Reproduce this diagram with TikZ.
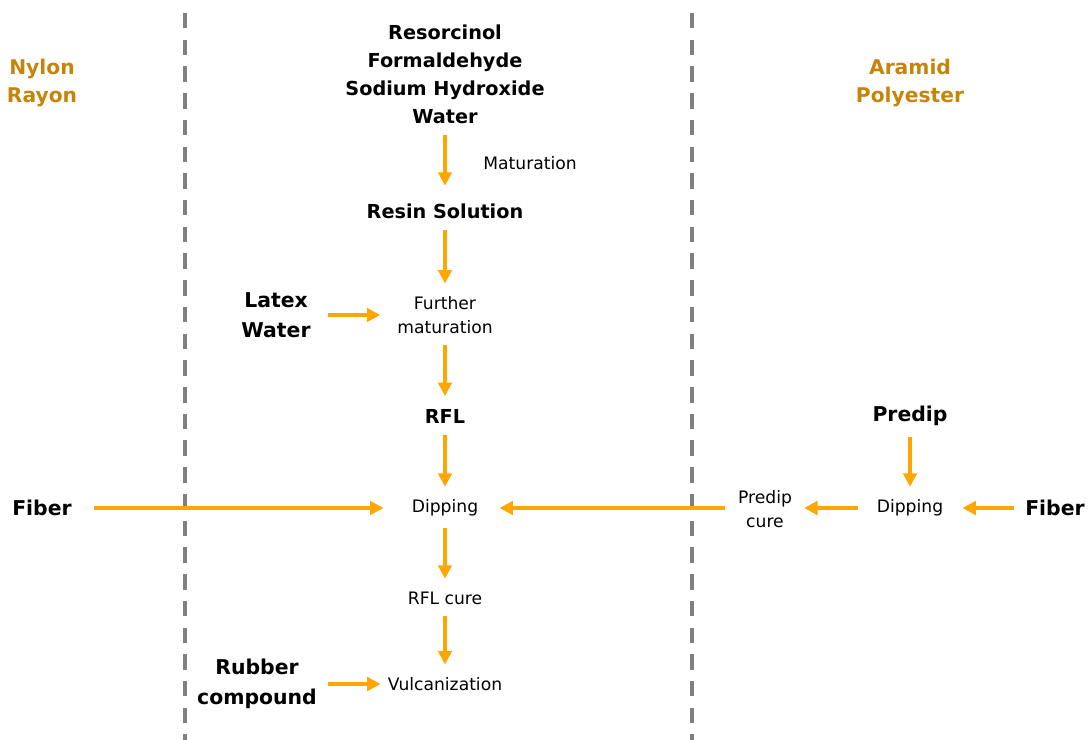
\documentclass[tikz,border=0pt]{standalone}
\usepackage{fontspec}
\setmainfont{DejaVu Sans}
\usetikzlibrary{arrows.meta, positioning}
\definecolor{floworange}{RGB}{255,166,0}
\definecolor{fibreorange}{RGB}{199,132,10}
\definecolor{divgray}{RGB}{128,128,128}

\begin{document}
\begin{tikzpicture}[x=0.025cm, y=-0.025cm,
    flow/.style={draw=floworange, line width=2.5pt, -{Triangle[length=9.5pt,width=9.5pt]},
                 shorten <=8pt, shorten >=9pt},
    chem/.style={inner sep=0pt, align=center, font=\fontsize{13.7}{19.9}\selectfont\bfseries},
    feed/.style={inner sep=0pt, align=center, font=\fontsize{14.5}{21.3}\selectfont\bfseries},
    stage/.style={inner sep=0pt, align=center, font=\fontsize{12.2}{17}\selectfont},
    fibres/.style={inner sep=0pt, align=center, text=fibreorange,
                   font=\fontsize{14.4}{20.6}\selectfont\bfseries},
    divider/.style={draw=divgray, line width=2.2pt, dash pattern=on 11pt off 8pt}]
    \useasboundingbox (0,0) rectangle (1089,740);

    % Dividers between fibre groups
    \draw[divider] (185,13) -- (185,740);
    \draw[divider] (692,13) -- (692,740);

    % Fibre groups
    \node[fibres] (nylon) at (42,83) {Nylon\\Rayon};
    \node[fibres] (aramid) at (910,83) {Aramid\\Polyester};

    % Main RFL line
    \node[chem] (raw) at (445,74) {Resorcinol\\Formaldehyde\\Sodium Hydroxide\\Water};
    \node[chem] (resin) at (445,211) {Resin Solution};
    \node[stage] (further) at (445,315) {Further\\maturation};
    \node[chem] (rfl) at (445,416) {RFL};
    \node[stage] (dip) at (445,508) {Dipping};
    \node[stage] (rflcure) at (445,598) {RFL cure};
    \node[stage] (vulc) at (445,684) {Vulcanization};

    \node[feed] (latex) at (276,315) {Latex\\Water};
    \node[feed] (rubber) at (257,684) {Rubber\\compound};
    \node[feed] (fiberl) at (42,508) {Fiber};

    % Predip line
    \node[feed] (predip) at (910,416) {Predip};
    \node[stage] (dipr) at (910,508) {Dipping};
    \node[stage] (predipcure) at (765,509) {Predip\\cure};
    \node[feed] (fiberr) at (1055,508) {Fiber};

    \draw[flow, shorten >=12.5pt] (raw) -- node[stage, right=26pt] (mat) {Maturation} (resin);
    \draw[flow] (resin) -- (further);
    \draw[flow] (further) -- (rfl);
    \draw[flow] (rfl) -- (dip);
    \draw[flow] (dip) -- (rflcure);
    \draw[flow] (rflcure) -- (vulc);
    \draw[flow, shorten <=12pt, shorten >=12pt] (latex) -- (further);
    \draw[flow, shorten <=8pt, shorten >=5pt] (rubber) -- (vulc);
    \draw[flow, shorten <=16pt, shorten >=20pt] (fiberl) -- (dip);

    \draw[flow] (predip) -- (dipr);
    \draw[flow, shorten <=8pt, shorten >=13.5pt] (fiberr) -- (dipr);
    \draw[flow, shorten <=13.5pt, shorten >=8.5pt] (dipr) -- (predipcure.east |- dipr);
    \draw[flow, shorten <=9pt, shorten >=15pt] (predipcure.west |- dip) -- (dip);
\end{tikzpicture}
\end{document}
